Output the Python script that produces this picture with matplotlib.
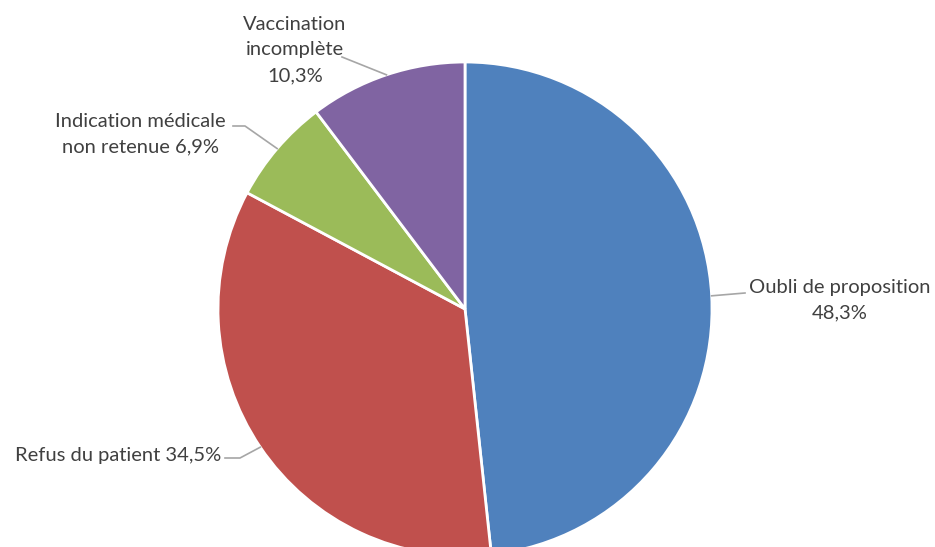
import numpy as np
import matplotlib.pyplot as plt

labels = ["Oubli de proposition\n48,3%", "Refus du patient 34,5%",
          "Indication médicale\nnon retenue 6,9%", "Vaccination\nincomplète\n10,3%"]
values = [48.3, 34.5, 6.9, 10.3]
colors = ["#4F81BD", "#C0504D", "#9BBB59", "#8064A2"]

W, H = 935, 547
cx, cy, r = 465, H - 309, 247

fig = plt.figure(figsize=(W / 100, H / 100), dpi=100)
ax = fig.add_axes([0, 0, 1, 1])
wedges, _ = ax.pie(values, colors=colors, startangle=90, counterclock=False,
                   center=(cx, cy), radius=r,
                   wedgeprops=dict(edgecolor="white", linewidth=2))
ax.set_xlim(0, W)
ax.set_ylim(0, H)
ax.set_aspect("equal")
ax.set_axis_off()

# label layout: (elbow point, line end, text position, alignment)
layout = [
    ((745, H - 293), None, (840, H - 300), "center"),
    ((240, H - 458), (225, H - 458), (221, H - 455), "right"),
    ((245, H - 126), (233, H - 126), (140, H - 134), "center"),
    ((342, H - 57), None, (295, H - 50), "center"),
]

txt_color = "#404040"
line_color = "#A6A6A6"
for w, (elbow, end, tpos, ha) in zip(wedges, layout):
    ang = np.deg2rad((w.theta1 + w.theta2) / 2)
    px, py = cx + r * np.cos(ang), cy + r * np.sin(ang)
    xs = [px, elbow[0]]
    ys = [py, elbow[1]]
    if end is not None:
        xs.append(end[0])
        ys.append(end[1])
    ax.plot(xs, ys, color=line_color, linewidth=1.2)

for lab, (elbow, end, tpos, ha) in zip(labels, layout):
    ax.text(tpos[0], tpos[1], lab, ha=ha, va="center", multialignment="center",
            fontsize=14.5, color=txt_color, family=["Lato", "DejaVu Sans"],
            linespacing=1.6)

fig.savefig("out.png", dpi=100)
